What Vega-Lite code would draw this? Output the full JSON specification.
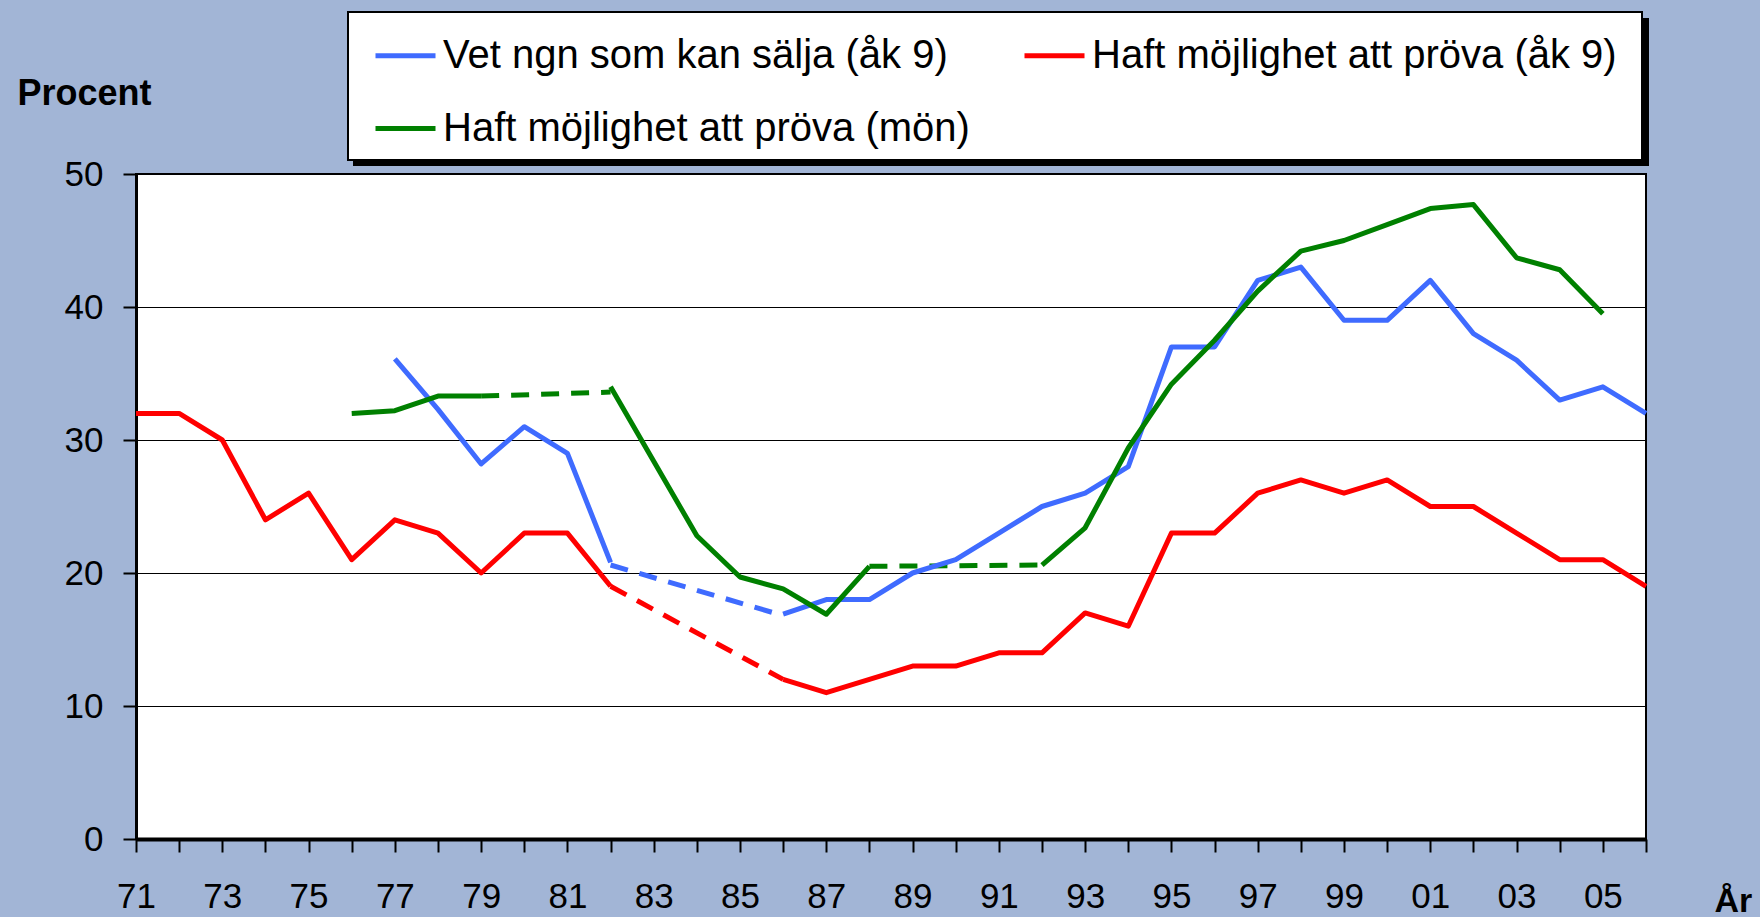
{
  "$schema": "https://vega.github.io/schema/vega-lite/v6.json",
  "width": 1510,
  "height": 665,
  "autosize": {"type": "none"},
  "padding": {"left": 136, "top": 174, "right": 114, "bottom": 78},
  "background": "#A2B5D6",
  "config": {
    "font": "Liberation Sans",
    "view": {"fill": "white", "stroke": "black", "strokeWidth": 2},
    "legend": {"strokeWidth": 2}
  },
  "data": {
    "values": [
      {"series": "Vet ngn som kan sälja (åk 9)", "segment": "b1", "style": "solid", "year": 1977, "value": 36.1},
      {"series": "Vet ngn som kan sälja (åk 9)", "segment": "b1", "style": "solid", "year": 1978, "value": 32.3},
      {"series": "Vet ngn som kan sälja (åk 9)", "segment": "b1", "style": "solid", "year": 1979, "value": 28.2},
      {"series": "Vet ngn som kan sälja (åk 9)", "segment": "b1", "style": "solid", "year": 1980, "value": 31},
      {"series": "Vet ngn som kan sälja (åk 9)", "segment": "b1", "style": "solid", "year": 1981, "value": 29},
      {"series": "Vet ngn som kan sälja (åk 9)", "segment": "b1", "style": "solid", "year": 1982, "value": 20.8},
      {"series": "Vet ngn som kan sälja (åk 9)", "segment": "b2", "style": "dash", "year": 1982, "value": 20.6},
      {"series": "Vet ngn som kan sälja (åk 9)", "segment": "b2", "style": "dash", "year": 1986, "value": 16.8},
      {"series": "Vet ngn som kan sälja (åk 9)", "segment": "b3", "style": "solid", "year": 1986, "value": 16.9},
      {"series": "Vet ngn som kan sälja (åk 9)", "segment": "b3", "style": "solid", "year": 1987, "value": 18},
      {"series": "Vet ngn som kan sälja (åk 9)", "segment": "b3", "style": "solid", "year": 1988, "value": 18},
      {"series": "Vet ngn som kan sälja (åk 9)", "segment": "b3", "style": "solid", "year": 1989, "value": 20},
      {"series": "Vet ngn som kan sälja (åk 9)", "segment": "b3", "style": "solid", "year": 1990, "value": 21},
      {"series": "Vet ngn som kan sälja (åk 9)", "segment": "b3", "style": "solid", "year": 1991, "value": 23},
      {"series": "Vet ngn som kan sälja (åk 9)", "segment": "b3", "style": "solid", "year": 1992, "value": 25},
      {"series": "Vet ngn som kan sälja (åk 9)", "segment": "b3", "style": "solid", "year": 1993, "value": 26},
      {"series": "Vet ngn som kan sälja (åk 9)", "segment": "b3", "style": "solid", "year": 1994, "value": 28},
      {"series": "Vet ngn som kan sälja (åk 9)", "segment": "b3", "style": "solid", "year": 1995, "value": 37},
      {"series": "Vet ngn som kan sälja (åk 9)", "segment": "b3", "style": "solid", "year": 1996, "value": 37},
      {"series": "Vet ngn som kan sälja (åk 9)", "segment": "b3", "style": "solid", "year": 1997, "value": 42},
      {"series": "Vet ngn som kan sälja (åk 9)", "segment": "b3", "style": "solid", "year": 1998, "value": 43},
      {"series": "Vet ngn som kan sälja (åk 9)", "segment": "b3", "style": "solid", "year": 1999, "value": 39},
      {"series": "Vet ngn som kan sälja (åk 9)", "segment": "b3", "style": "solid", "year": 2000, "value": 39},
      {"series": "Vet ngn som kan sälja (åk 9)", "segment": "b3", "style": "solid", "year": 2001, "value": 42},
      {"series": "Vet ngn som kan sälja (åk 9)", "segment": "b3", "style": "solid", "year": 2002, "value": 38},
      {"series": "Vet ngn som kan sälja (åk 9)", "segment": "b3", "style": "solid", "year": 2003, "value": 36},
      {"series": "Vet ngn som kan sälja (åk 9)", "segment": "b3", "style": "solid", "year": 2004, "value": 33},
      {"series": "Vet ngn som kan sälja (åk 9)", "segment": "b3", "style": "solid", "year": 2005, "value": 34},
      {"series": "Vet ngn som kan sälja (åk 9)", "segment": "b3", "style": "solid", "year": 2006, "value": 32},

      {"series": "Haft möjlighet att pröva (åk 9)", "segment": "r1", "style": "solid", "year": 1971, "value": 32},
      {"series": "Haft möjlighet att pröva (åk 9)", "segment": "r1", "style": "solid", "year": 1972, "value": 32},
      {"series": "Haft möjlighet att pröva (åk 9)", "segment": "r1", "style": "solid", "year": 1973, "value": 30},
      {"series": "Haft möjlighet att pröva (åk 9)", "segment": "r1", "style": "solid", "year": 1974, "value": 24},
      {"series": "Haft möjlighet att pröva (åk 9)", "segment": "r1", "style": "solid", "year": 1975, "value": 26},
      {"series": "Haft möjlighet att pröva (åk 9)", "segment": "r1", "style": "solid", "year": 1976, "value": 21},
      {"series": "Haft möjlighet att pröva (åk 9)", "segment": "r1", "style": "solid", "year": 1977, "value": 24},
      {"series": "Haft möjlighet att pröva (åk 9)", "segment": "r1", "style": "solid", "year": 1978, "value": 23},
      {"series": "Haft möjlighet att pröva (åk 9)", "segment": "r1", "style": "solid", "year": 1979, "value": 20},
      {"series": "Haft möjlighet att pröva (åk 9)", "segment": "r1", "style": "solid", "year": 1980, "value": 23},
      {"series": "Haft möjlighet att pröva (åk 9)", "segment": "r1", "style": "solid", "year": 1981, "value": 23},
      {"series": "Haft möjlighet att pröva (åk 9)", "segment": "r1", "style": "solid", "year": 1982, "value": 19},
      {"series": "Haft möjlighet att pröva (åk 9)", "segment": "r2", "style": "dash", "year": 1982, "value": 19},
      {"series": "Haft möjlighet att pröva (åk 9)", "segment": "r2", "style": "dash", "year": 1986, "value": 12},
      {"series": "Haft möjlighet att pröva (åk 9)", "segment": "r3", "style": "solid", "year": 1986, "value": 12},
      {"series": "Haft möjlighet att pröva (åk 9)", "segment": "r3", "style": "solid", "year": 1987, "value": 11},
      {"series": "Haft möjlighet att pröva (åk 9)", "segment": "r3", "style": "solid", "year": 1988, "value": 12},
      {"series": "Haft möjlighet att pröva (åk 9)", "segment": "r3", "style": "solid", "year": 1989, "value": 13},
      {"series": "Haft möjlighet att pröva (åk 9)", "segment": "r3", "style": "solid", "year": 1990, "value": 13},
      {"series": "Haft möjlighet att pröva (åk 9)", "segment": "r3", "style": "solid", "year": 1991, "value": 14},
      {"series": "Haft möjlighet att pröva (åk 9)", "segment": "r3", "style": "solid", "year": 1992, "value": 14},
      {"series": "Haft möjlighet att pröva (åk 9)", "segment": "r3", "style": "solid", "year": 1993, "value": 17},
      {"series": "Haft möjlighet att pröva (åk 9)", "segment": "r3", "style": "solid", "year": 1994, "value": 16},
      {"series": "Haft möjlighet att pröva (åk 9)", "segment": "r3", "style": "solid", "year": 1995, "value": 23},
      {"series": "Haft möjlighet att pröva (åk 9)", "segment": "r3", "style": "solid", "year": 1996, "value": 23},
      {"series": "Haft möjlighet att pröva (åk 9)", "segment": "r3", "style": "solid", "year": 1997, "value": 26},
      {"series": "Haft möjlighet att pröva (åk 9)", "segment": "r3", "style": "solid", "year": 1998, "value": 27},
      {"series": "Haft möjlighet att pröva (åk 9)", "segment": "r3", "style": "solid", "year": 1999, "value": 26},
      {"series": "Haft möjlighet att pröva (åk 9)", "segment": "r3", "style": "solid", "year": 2000, "value": 27},
      {"series": "Haft möjlighet att pröva (åk 9)", "segment": "r3", "style": "solid", "year": 2001, "value": 25},
      {"series": "Haft möjlighet att pröva (åk 9)", "segment": "r3", "style": "solid", "year": 2002, "value": 25},
      {"series": "Haft möjlighet att pröva (åk 9)", "segment": "r3", "style": "solid", "year": 2003, "value": 23},
      {"series": "Haft möjlighet att pröva (åk 9)", "segment": "r3", "style": "solid", "year": 2004, "value": 21},
      {"series": "Haft möjlighet att pröva (åk 9)", "segment": "r3", "style": "solid", "year": 2005, "value": 21},
      {"series": "Haft möjlighet att pröva (åk 9)", "segment": "r3", "style": "solid", "year": 2006, "value": 19},

      {"series": "Haft möjlighet att pröva (mön)", "segment": "g1", "style": "solid", "year": 1976, "value": 32},
      {"series": "Haft möjlighet att pröva (mön)", "segment": "g1", "style": "solid", "year": 1977, "value": 32.2},
      {"series": "Haft möjlighet att pröva (mön)", "segment": "g1", "style": "solid", "year": 1978, "value": 33.3},
      {"series": "Haft möjlighet att pröva (mön)", "segment": "g1", "style": "solid", "year": 1979, "value": 33.3},
      {"series": "Haft möjlighet att pröva (mön)", "segment": "g2", "style": "dash", "year": 1979, "value": 33.3},
      {"series": "Haft möjlighet att pröva (mön)", "segment": "g2", "style": "dash", "year": 1982, "value": 33.6},
      {"series": "Haft möjlighet att pröva (mön)", "segment": "g3", "style": "solid", "year": 1982, "value": 34},
      {"series": "Haft möjlighet att pröva (mön)", "segment": "g3", "style": "solid", "year": 1983, "value": 28.4},
      {"series": "Haft möjlighet att pröva (mön)", "segment": "g3", "style": "solid", "year": 1984, "value": 22.8},
      {"series": "Haft möjlighet att pröva (mön)", "segment": "g3", "style": "solid", "year": 1985, "value": 19.7},
      {"series": "Haft möjlighet att pröva (mön)", "segment": "g3", "style": "solid", "year": 1986, "value": 18.8},
      {"series": "Haft möjlighet att pröva (mön)", "segment": "g3", "style": "solid", "year": 1987, "value": 16.9},
      {"series": "Haft möjlighet att pröva (mön)", "segment": "g3", "style": "solid", "year": 1988, "value": 20.5},
      {"series": "Haft möjlighet att pröva (mön)", "segment": "g4", "style": "dash", "year": 1988, "value": 20.5},
      {"series": "Haft möjlighet att pröva (mön)", "segment": "g4", "style": "dash", "year": 1992, "value": 20.6},
      {"series": "Haft möjlighet att pröva (mön)", "segment": "g5", "style": "solid", "year": 1992, "value": 20.6},
      {"series": "Haft möjlighet att pröva (mön)", "segment": "g5", "style": "solid", "year": 1993, "value": 23.4},
      {"series": "Haft möjlighet att pröva (mön)", "segment": "g5", "style": "solid", "year": 1994, "value": 29.4},
      {"series": "Haft möjlighet att pröva (mön)", "segment": "g5", "style": "solid", "year": 1995, "value": 34.2},
      {"series": "Haft möjlighet att pröva (mön)", "segment": "g5", "style": "solid", "year": 1996, "value": 37.5},
      {"series": "Haft möjlighet att pröva (mön)", "segment": "g5", "style": "solid", "year": 1997, "value": 41.2},
      {"series": "Haft möjlighet att pröva (mön)", "segment": "g5", "style": "solid", "year": 1998, "value": 44.2},
      {"series": "Haft möjlighet att pröva (mön)", "segment": "g5", "style": "solid", "year": 1999, "value": 45},
      {"series": "Haft möjlighet att pröva (mön)", "segment": "g5", "style": "solid", "year": 2000, "value": 46.2},
      {"series": "Haft möjlighet att pröva (mön)", "segment": "g5", "style": "solid", "year": 2001, "value": 47.4},
      {"series": "Haft möjlighet att pröva (mön)", "segment": "g5", "style": "solid", "year": 2002, "value": 47.7},
      {"series": "Haft möjlighet att pröva (mön)", "segment": "g5", "style": "solid", "year": 2003, "value": 43.7},
      {"series": "Haft möjlighet att pröva (mön)", "segment": "g5", "style": "solid", "year": 2004, "value": 42.8},
      {"series": "Haft möjlighet att pröva (mön)", "segment": "g5", "style": "solid", "year": 2005, "value": 39.5}
    ]
  },
  "encoding": {
    "x": {
      "field": "year",
      "type": "quantitative",
      "scale": {"domain": [1971, 2006], "nice": false, "zero": false},
      "axis": {
        "values": [1971, 1972, 1973, 1974, 1975, 1976, 1977, 1978, 1979, 1980, 1981, 1982, 1983, 1984, 1985, 1986, 1987, 1988, 1989, 1990, 1991, 1992, 1993, 1994, 1995, 1996, 1997, 1998, 1999, 2000, 2001, 2002, 2003, 2004, 2005, 2006],
        "labelExpr": "datum.value % 2 == 1 ? substring(toString(datum.value), 2, 4) : ''",
        "grid": false,
        "domainColor": "black",
        "domainWidth": 4,
        "tickColor": "black",
        "tickWidth": 2,
        "tickSize": 13,
        "labelFontSize": 35,
        "labelColor": "black",
        "labelPadding": 27,
        "labelFlush": false,
        "labelOverlap": false,
        "title": "År",
        "titleFontSize": 34,
        "titleFontWeight": "bold",
        "titleColor": "black",
        "titleX": 1578,
        "titleY": 72,
        "titleAlign": "left",
        "titleBaseline": "alphabetic"
      }
    },
    "y": {
      "field": "value",
      "type": "quantitative",
      "scale": {"domain": [0, 50], "nice": false},
      "axis": {
        "values": [0, 10, 20, 30, 40, 50],
        "grid": true,
        "gridColor": "black",
        "gridWidth": 1.2,
        "domainColor": "black",
        "domainWidth": 3,
        "tickColor": "black",
        "tickWidth": 2,
        "tickSize": 13,
        "labelFontSize": 35,
        "labelColor": "black",
        "labelPadding": 20,
        "title": "Procent",
        "titleAngle": 0,
        "titleFontSize": 36,
        "titleFontWeight": "bold",
        "titleColor": "black",
        "titleX": -119,
        "titleY": -70,
        "titleAlign": "left",
        "titleBaseline": "alphabetic"
      }
    },
    "color": {
      "field": "series",
      "type": "nominal",
      "scale": {
        "domain": ["Vet ngn som kan sälja (åk 9)", "Haft möjlighet att pröva (åk 9)", "Haft möjlighet att pröva (mön)"],
        "range": ["#3F6BFF", "#FF0000", "#008000"]
      },
      "legend": {
        "orient": "none",
        "legendX": 212,
        "legendY": -162,
        "zindex": 2,
        "direction": "horizontal",
        "columns": 2,
        "columnPadding": 38,
        "rowPadding": 20,
        "padding": 11,
        "symbolOffset": 14,
        "fillColor": "white",
        "strokeColor": "black",
        "symbolType": "stroke",
        "symbolStrokeWidth": 5,
        "symbolSize": 3600,
        "labelFontSize": 40,
        "labelColor": "black",
        "labelOffset": 5,
        "labelLimit": 0,
        "title": " ",
        "titleOrient": "right",
        "titleFontSize": 1,
        "titlePadding": 14
      }
    },
    "opacity": {
      "field": "series",
      "type": "nominal",
      "scale": {
        "domain": ["Haft möjlighet att pröva (mön)", "Haft möjlighet att pröva (åk 9)", "Vet ngn som kan sälja (åk 9)"],
        "range": [1, 1, 1]
      },
      "legend": {
        "orient": "none",
        "legendX": 218,
        "legendY": -155,
        "zindex": 1,
        "direction": "horizontal",
        "columns": 2,
        "columnPadding": 1126,
        "rowPadding": 20,
        "padding": 11,
        "symbolOffset": 14,
        "fillColor": "black",
        "strokeColor": "black",
        "symbolType": "square",
        "symbolStrokeWidth": 0,
        "symbolSize": 2704,
        "symbolOpacity": 0,
        "labelExpr": "''",
        "labelFontSize": 1,
        "labelOffset": 0,
        "labelLimit": 0,
        "title": " ",
        "titleOrient": "right",
        "titleFontSize": 1,
        "titlePadding": 14
      }
    },
    "detail": {"field": "segment", "type": "nominal"}
  },
  "layer": [
    {
      "transform": [{"filter": "datum.style == 'dash'"}],
      "mark": {"type": "line", "strokeWidth": 5, "strokeDash": [18, 12]}
    },
    {
      "transform": [{"filter": "datum.style == 'solid'"}],
      "mark": {"type": "line", "strokeWidth": 5, "strokeJoin": "round"}
    }
  ]
}
